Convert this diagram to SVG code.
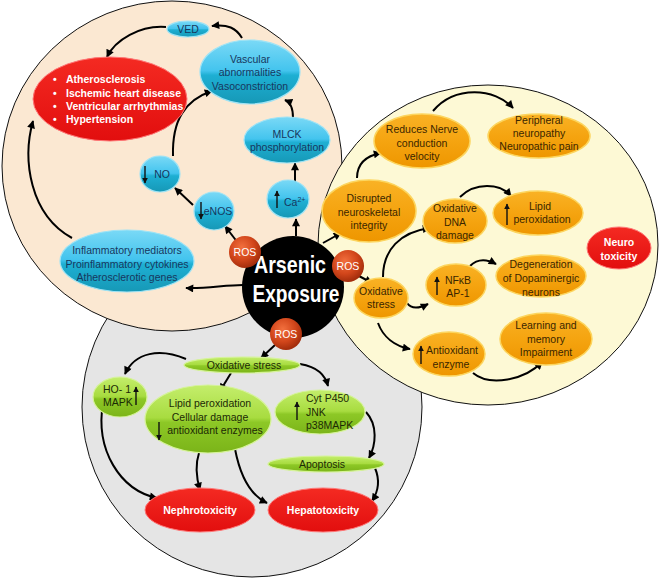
<svg xmlns="http://www.w3.org/2000/svg" width="659" height="579" viewBox="0 0 659 579">
<defs>
<style>
.t{font-family:"Liberation Sans",Arial,sans-serif;font-size:10.5px;text-anchor:middle}
.tc{fill:#17375e}
.to{fill:#3a2600}
.tg{fill:#1c2a05}
.tw{fill:#fff;font-weight:bold}
.cy{fill:url(#gCy);stroke:#9fe3f5;stroke-width:1.2}
.or{fill:url(#gOr);stroke:#fcd55e;stroke-width:1.5}
.gr{fill:url(#gGr);stroke:#d6f39a;stroke-width:1.2}
.rd{fill:url(#gRd);stroke:#f77;stroke-width:1}
.ros{fill:url(#gRos)}
.con{fill:none;stroke:#000;stroke-width:2;marker-end:url(#ah)}
.sa{fill:none;stroke:#111;stroke-width:1.4;marker-end:url(#sh)}
</style>
<linearGradient id="gCy" x1="0" y1="0" x2="0" y2="1">
<stop offset="0" stop-color="#7ad9f6"/><stop offset="0.48" stop-color="#43c4ee"/><stop offset="0.55" stop-color="#1eafd3"/><stop offset="1" stop-color="#1698b6"/>
</linearGradient>
<linearGradient id="gOr" x1="0" y1="0" x2="0" y2="1">
<stop offset="0" stop-color="#f9b225"/><stop offset="0.5" stop-color="#f5a410"/><stop offset="1" stop-color="#ee9600"/>
</linearGradient>
<linearGradient id="gGr" x1="0" y1="0" x2="0" y2="1">
<stop offset="0" stop-color="#c4ee6c"/><stop offset="0.48" stop-color="#a8dc40"/><stop offset="0.55" stop-color="#8dc826"/><stop offset="1" stop-color="#7bb419"/>
</linearGradient>
<linearGradient id="gRd" x1="0" y1="0" x2="0" y2="1">
<stop offset="0" stop-color="#f42a22"/><stop offset="1" stop-color="#e20e0e"/>
</linearGradient>
<radialGradient id="gRos" cx="0.4" cy="0.35" r="0.65">
<stop offset="0" stop-color="#f2703e"/><stop offset="0.6" stop-color="#d2461b"/><stop offset="1" stop-color="#a32d0c"/>
</radialGradient>
<marker id="ah" viewBox="0 0 10 10" refX="9" refY="5" markerWidth="9" markerHeight="8" markerUnits="userSpaceOnUse" orient="auto"><path d="M0,0 L10,5 L0,10 z" fill="#000"/></marker>
<marker id="sh" viewBox="0 0 10 10" refX="9" refY="5" markerWidth="6" markerHeight="6" markerUnits="userSpaceOnUse" orient="auto"><path d="M0,0 L10,5 L0,10 z" fill="#111"/></marker>
</defs>

<g id="backgrounds">
<circle cx="252" cy="407" r="170" fill="#e5e5e5" stroke="#111" stroke-width="1"/>
<ellipse cx="172" cy="166" rx="170" ry="165" fill="#fbe8d2" stroke="#111" stroke-width="1"/>
<ellipse cx="488" cy="245" rx="170" ry="160" fill="#fdf9d5" stroke="#111" stroke-width="1"/>
</g>

<g id="connectors">
<path class="con" d="M72 238 C30 215 22 160 33 121"/>
<path class="con" d="M242 38 C236 28 228 24 212 26"/>
<path class="con" d="M166 27 C140 25 115 40 107 57"/>
<path class="con" d="M173 156 C172 120 185 100 212 91"/>
<path class="con" d="M193 205 L175 188"/>
<path class="con" d="M238 243 L225 226"/>
<path class="con" d="M295 182 L295 163"/>
<path class="con" d="M293 118 C293 108 290 102 285 100"/>
<path class="con" d="M296 236 L296 219"/>
<path class="con" d="M243 285 C225 285 205 289 186 288"/>
<path class="con" d="M323 243 L341 233"/>
<path class="con" d="M357 178 C357 165 365 156 381 153"/>
<path class="con" d="M433 111 C455 85 495 88 513 108"/>
<path class="con" d="M359 276 L372 283"/>
<path class="con" d="M383 277 C383 250 400 232 430 228"/>
<path class="con" d="M460 197 C475 182 500 183 511 196"/>
<path class="con" d="M407 303 C412 310 420 308 428 304"/>
<path class="con" d="M470 266 C476 260 485 258 496 264"/>
<path class="con" d="M378 323 C383 337 395 346 410 349"/>
<path class="con" d="M473 373 C490 387 525 380 542 362"/>
<path class="con" d="M275 345 L261 358"/>
<path class="con" d="M186 359 C160 348 135 352 125 374"/>
<path class="con" d="M231 373 L220 391"/>
<path class="con" d="M300 364 C318 367 325 375 328 386"/>
<path class="con" d="M366 412 C378 425 376 445 369 458"/>
<path class="con" d="M375 468 C380 480 378 492 372 501"/>
<path class="con" d="M103 403 C95 450 120 490 157 498"/>
<path class="con" d="M199 453 C195 465 197 480 200 490"/>
<path class="con" d="M235 449 C240 475 250 495 267 503"/>
</g>

<g id="n-ved"><ellipse class="cy" cx="188" cy="29" rx="21" ry="8"/><text class="t tc" x="188" y="32.5">VED</text></g>
<g id="n-cardio"><ellipse class="rd" cx="110" cy="99" rx="77" ry="42"/>
<text class="t tw" x="53" y="83" style="text-anchor:start">•</text><text class="t tw" x="66" y="83" style="text-anchor:start">Atherosclerosis</text>
<text class="t tw" x="53" y="97" style="text-anchor:start">•</text><text class="t tw" x="66" y="97" style="text-anchor:start">Ischemic heart disease</text>
<text class="t tw" x="53" y="110" style="text-anchor:start">•</text><text class="t tw" x="66" y="110" style="text-anchor:start">Ventricular arrhythmias</text>
<text class="t tw" x="53" y="123" style="text-anchor:start">•</text><text class="t tw" x="66" y="123" style="text-anchor:start">Hypertension</text></g>
<g id="n-vascular"><ellipse class="cy" cx="250" cy="72" rx="50" ry="32"/><text class="t tc" x="250" y="62.5">Vascular</text><text class="t tc" x="250" y="76">abnormalities</text><text class="t tc" x="250" y="89.5">Vasoconstriction</text></g>
<g id="n-mlck"><ellipse class="cy" cx="287" cy="140" rx="43" ry="23"/><text class="t tc" x="287" y="137.5">MLCK</text><text class="t tc" x="287" y="150.5">phosphorylation</text></g>
<g id="n-no"><ellipse class="cy" cx="160" cy="174" rx="20" ry="18"/><path class="sa" d="M145 166 L145 183"/><text class="t tc" x="162" y="178">NO</text></g>
<g id="n-enos"><ellipse class="cy" cx="214" cy="211" rx="20" ry="19"/><path class="sa" d="M201 202 L201 219"/><text class="t tc" x="218" y="215">eNOS</text></g>
<g id="n-ca"><ellipse class="cy" cx="288" cy="199" rx="21" ry="19"/><path class="sa" d="M277 208 L277 191"/><text class="t tc" x="284" y="206" style="text-anchor:start">Ca<tspan font-size="7" dy="-4">2+</tspan></text></g>
<g id="n-inflam"><ellipse class="cy" cx="127" cy="261" rx="67" ry="31"/><text class="t tc" x="127" y="254">Inflammatory mediators</text><text class="t tc" x="127" y="267.5">Proinflammatory cytokines</text><text class="t tc" x="127" y="281">Atherosclerotic genes</text></g>

<g id="n-reduces"><ellipse class="or" cx="422" cy="141" rx="48" ry="27"/><text class="t to" x="422" y="133">Reduces Nerve</text><text class="t to" x="422" y="146.5">conduction</text><text class="t to" x="422" y="160">velocity</text></g>
<g id="n-peripheral"><ellipse class="or" cx="539" cy="136" rx="51" ry="22"/><text class="t to" x="539" y="124">Peripheral</text><text class="t to" x="539" y="137">neuropathy</text><text class="t to" x="539" y="150">Neuropathic pain</text></g>
<g id="n-disrupted"><ellipse class="or" cx="369" cy="211" rx="47" ry="31"/><text class="t to" x="369" y="202">Disrupted</text><text class="t to" x="369" y="215.5">neuroskeletal</text><text class="t to" x="369" y="229">integrity</text></g>
<g id="n-dna"><ellipse class="or" cx="455" cy="221" rx="32" ry="22"/><text class="t to" x="455" y="212">Oxidative</text><text class="t to" x="455" y="225.5">DNA</text><text class="t to" x="455" y="239">damage</text></g>
<g id="n-lipid"><ellipse class="or" cx="538" cy="213" rx="45" ry="22"/><path class="sa" d="M507 225 L507 204"/><text class="t to" x="540" y="210">Lipid</text><text class="t to" x="542" y="223">peroxidation</text></g>
<g id="n-neuro"><ellipse class="rd" cx="619" cy="248" rx="32" ry="21"/><text class="t tw" x="619" y="246">Neuro</text><text class="t tw" x="619" y="259.5">toxicity</text></g>
<g id="n-degen"><ellipse class="or" cx="541" cy="276" rx="45" ry="21"/><text class="t to" x="541" y="268">Degeneration</text><text class="t to" x="541" y="282">of Dopaminergic</text><text class="t to" x="541" y="296">neurons</text></g>
<g id="n-nfkb"><ellipse class="or" cx="456" cy="285" rx="30" ry="21"/><path class="sa" d="M437 295 L437 277"/><text class="t to" x="458" y="284">NFκB</text><text class="t to" x="458" y="297">AP-1</text></g>
<g id="n-oxs"><ellipse class="or" cx="381" cy="298" rx="27" ry="20"/><text class="t to" x="381" y="295">Oxidative</text><text class="t to" x="381" y="308">stress</text></g>
<g id="n-antiox"><ellipse class="or" cx="449" cy="354" rx="36" ry="22"/><path class="sa" d="M421 364 L421 346"/><text class="t to" x="452" y="354">Antioxidant</text><text class="t to" x="451" y="368">enzyme</text></g>
<g id="n-learning"><ellipse class="or" cx="546" cy="339" rx="46" ry="26"/><text class="t to" x="546" y="329">Learning and</text><text class="t to" x="546" y="343">memory</text><text class="t to" x="546" y="356">Impairment</text></g>

<g id="n-oxs2"><ellipse class="gr" cx="242" cy="365" rx="58" ry="8"/><text class="t tg" x="244" y="369">Oxidative stress</text></g>
<g id="n-ho1"><ellipse class="gr" cx="120" cy="397" rx="27" ry="20"/><path class="sa" d="M136 405 L136 387"/><text class="t tg" x="103" y="393" style="text-anchor:start">HO- 1</text><text class="t tg" x="103" y="406" style="text-anchor:start">MAPK</text></g>
<g id="n-lipid2"><ellipse class="gr" cx="208" cy="419" rx="63" ry="34"/><path class="sa" d="M159 422 L159 440"/><text class="t tg" x="210" y="407">Lipid peroxidation</text><text class="t tg" x="210" y="420.5">Cellular damage</text><text class="t tg" x="215" y="434">antioxidant enzymes</text></g>
<g id="n-cyt"><ellipse class="gr" cx="320" cy="412" rx="45" ry="22"/><path class="sa" d="M297 420 L297 402"/><text class="t tg" x="306" y="402" style="text-anchor:start">Cyt P450</text><text class="t tg" x="306" y="415.5" style="text-anchor:start">JNK</text><text class="t tg" x="306" y="429" style="text-anchor:start">p38MAPK</text></g>
<g id="n-apop"><ellipse class="gr" cx="326" cy="464" rx="58" ry="8"/><text class="t tg" x="322" y="468">Apoptosis</text></g>
<g id="n-nephro"><ellipse class="rd" cx="200" cy="510" rx="55" ry="22"/><text class="t tw" x="200" y="514">Nephrotoxicity</text></g>
<g id="n-hepato"><ellipse class="rd" cx="323" cy="510" rx="55" ry="22"/><text class="t tw" x="323" y="514">Hepatotoxicity</text></g>

<g id="n-arsenic"><circle cx="293" cy="287" r="51" fill="#000"/>
<text x="290" y="273" font-family="Liberation Sans,Arial,sans-serif" font-weight="bold" font-size="23" fill="#fff" text-anchor="middle" textLength="72" lengthAdjust="spacingAndGlyphs">Arsenic</text>
<text x="296" y="302" font-family="Liberation Sans,Arial,sans-serif" font-weight="bold" font-size="23" fill="#fff" text-anchor="middle" textLength="87" lengthAdjust="spacingAndGlyphs">Exposure</text></g>
<g id="n-ros1"><circle class="ros" cx="245" cy="252" r="16"/><text class="t" x="245" y="256" fill="#fff" font-size="11">ROS</text></g>
<g id="n-ros2"><circle class="ros" cx="348" cy="266" r="16"/><text class="t" x="348" y="270" fill="#fff" font-size="11">ROS</text></g>
<g id="n-ros3"><circle class="ros" cx="286" cy="334" r="16"/><text class="t" x="286" y="338" fill="#fff" font-size="11">ROS</text></g>
</svg>
